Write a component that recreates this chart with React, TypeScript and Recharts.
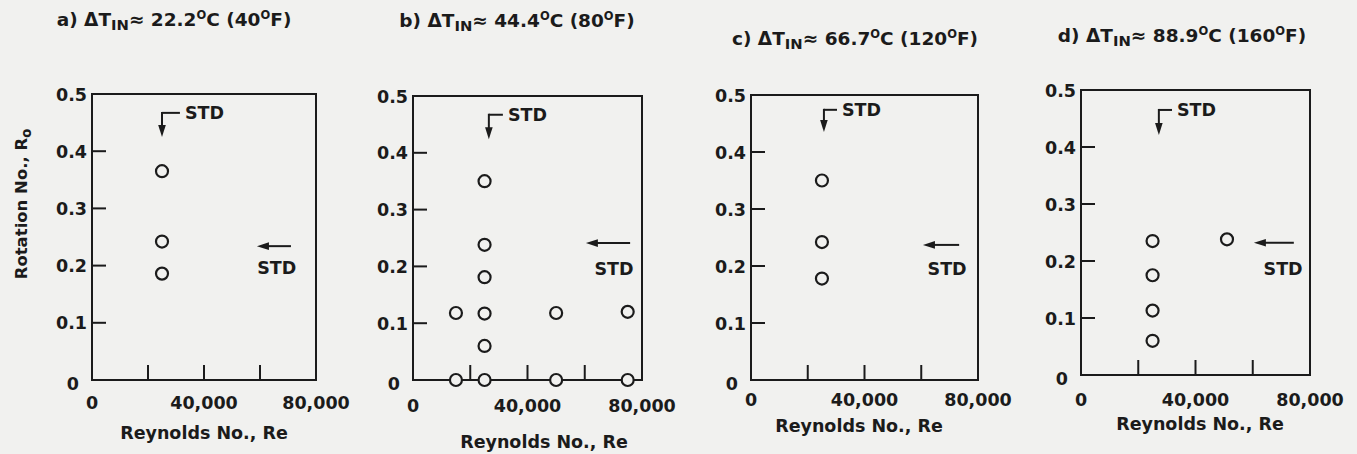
import React from "react";
import {
  ScatterChart,
  Scatter,
  XAxis,
  YAxis,
  ReferenceArea,
  ReferenceLine,
} from "recharts";

const INK = "#1b1b1b";
const BG = "#f1f1ef";
const FONT = "'DejaVu Sans', sans-serif";

// axes
const xTicks = [0, 20000, 40000, 60000, 80000];
const xTickLabels = ["0", "", "40,000", "", "80,000"];
const xTickMarks = [20000, 40000, 60000];
const yTicks = [0, 0.1, 0.2, 0.3, 0.4, 0.5];
const yTickLabels = ["0", "0.1", "0.2", "0.3", "0.4", "0.5"];
const yTickMarks = [0.1, 0.2, 0.3, 0.4];

// panel titles
const panelLetters = ["a)", "b)", "c)", "d)"];
const tempC = ["22.2", "44.4", "66.7", "88.9"];
const tempF = ["40", "80", "120", "160"];

// data points (Reynolds No., Rotation No.)
const aRe = [25000, 25000, 25000];
const aRo = [0.365, 0.242, 0.186];
const bRe = [15000, 15000, 25000, 25000, 25000, 25000, 25000, 25000, 50000, 50000, 75000, 75000];
const bRo = [0.118, 0, 0.35, 0.238, 0.181, 0.117, 0.06, 0, 0.118, 0, 0.12, 0];
const cRe = [25000, 25000, 25000];
const cRo = [0.35, 0.242, 0.178];
const dRe = [25000, 25000, 25000, 25000, 51000];
const dRo = [0.235, 0.175, 0.113, 0.06, 0.238];

// STD down arrow: [Re, Ro top, Ro tip, Re hook end]
const aStdDown = [25000, 0.467, 0.425, 31400];
const bStdDown = [26500, 0.467, 0.424, 31400];
const cStdDown = [25700, 0.474, 0.435, 30300];
const dStdDown = [27200, 0.465, 0.421, 31800];
// STD side arrow: [Re tail, Re tip, Ro]
const aStdSide = [70700, 58900, 0.234];
const bStdSide = [75500, 60400, 0.241];
const cStdSide = [73000, 60600, 0.237];
const dStdSide = [74000, 60400, 0.232];
// STD text under side arrow: [Re, Ro]
const aStdText = [66000, 0.196];
const bStdText = [70200, 0.197];
const cStdText = [69100, 0.196];
const dStdText = [70600, 0.186];

const panelRe = [aRe, bRe, cRe, dRe];
const panelRo = [aRo, bRo, cRo, dRo];
const stdDown = [aStdDown, bStdDown, cStdDown, dStdDown];
const stdSide = [aStdSide, bStdSide, cStdSide, dStdSide];
const stdText = [aStdText, bStdText, cStdText, dStdText];

// page layout of each panel (pixels)
const layouts = [
  { left: 92, right: 316, top: 94, bottom: 380, titleX: 174, titleY: 19.5, xTitleX: 204, xTitleY: 433, tickDy: 22.5 },
  { left: 413, right: 642, top: 96, bottom: 380, titleX: 517, titleY: 20.5, xTitleX: 544, xTitleY: 442, tickDy: 25.5 },
  { left: 751, right: 978, top: 95, bottom: 380, titleX: 855, titleY: 38.5, xTitleX: 859, xTitleY: 426, tickDy: 19.5 },
  { left: 1081, right: 1310, top: 90, bottom: 375, titleX: 1182, titleY: 36, xTitleX: 1200, xTitleY: 424, tickDy: 24.5 },
];

const textStyle = { fontFamily: FONT, fontSize: 17.5, fontWeight: 700, fill: INK };

const arrowShape = (p: any) => {
  const { x1, y1, x2, y2 } = p;
  const ang = Math.atan2(y2 - y1, x2 - x1);
  const len = 12;
  const half = 3.8;
  const bx = x2 - len * Math.cos(ang);
  const by = y2 - len * Math.sin(ang);
  const px = -Math.sin(ang) * half;
  const py = Math.cos(ang) * half;
  return (
    <g>
      <line x1={x1} y1={y1} x2={bx} y2={by} stroke={INK} strokeWidth={2} strokeLinecap="square" />
      <polygon
        points={`${x2},${y2} ${bx + px},${by + py} ${bx - px},${by - py}`}
        fill={INK}
      />
    </g>
  );
};

const ring = (p: any) => (
  <circle cx={p.cx} cy={p.cy} r={6} fill={BG} stroke={INK} strokeWidth={2.2} />
);

const stdStart = (p: any) => (
  <text x={p.cx + 5} y={p.cy + 6.5} textAnchor="start" style={textStyle}>
    STD
  </text>
);

const stdMiddle = (p: any) => (
  <text x={p.cx} y={p.cy + 6.5} textAnchor="middle" style={textStyle}>
    STD
  </text>
);

const sub = (t: string) => (
  <span style={{ fontSize: "0.8em", position: "relative", top: "0.3em" }}>{t}</span>
);
const sup = (t: string) => (
  <span style={{ fontSize: "0.62em", position: "relative", top: "-0.6em" }}>{t}</span>
);

const htmlText = {
  position: "absolute" as const,
  whiteSpace: "nowrap" as const,
  fontFamily: FONT,
  fontWeight: 700,
  lineHeight: "22px",
  color: INK,
};

function Panel({ i }: { i: number }) {
  const L = layouts[i];
  const padL = 70;
  const padR = 45;
  const axisH = 40;
  const w = L.right - L.left + padL + padR;
  const pts = panelRe[i].map((re, k) => ({ re, ro: panelRo[i][k] }));
  const down = stdDown[i];
  const side = stdSide[i];
  const topLabel = [{ re: down[3], ro: down[1] }];
  const sideLabel = [{ re: stdText[i][0], ro: stdText[i][1] }];

  const xTick = (p: any) => {
    const v = p.payload.value;
    const k = xTicks.indexOf(v);
    return (
      <g>
        {xTickMarks.includes(v) && (
          <line x1={p.x} y1={p.y} x2={p.x} y2={p.y - 15} stroke={INK} strokeWidth={2} />
        )}
        <text x={p.x} y={p.y + L.tickDy + 6.5} textAnchor="middle" style={textStyle}>
          {xTickLabels[k]}
        </text>
      </g>
    );
  };

  const yTick = (p: any) => {
    const v = p.payload.value;
    const k = yTicks.indexOf(v);
    return (
      <g>
        {yTickMarks.includes(v) && (
          <line x1={p.x} y1={p.y} x2={p.x + 14} y2={p.y} stroke={INK} strokeWidth={2} />
        )}
        <text
          x={p.x - (v === 0 ? 13 : 5)}
          y={p.y + 6.5 + (v === 0 ? 3 : 0)}
          textAnchor="end"
          style={textStyle}
        >
          {yTickLabels[k]}
        </text>
      </g>
    );
  };

  return (
    <>
      <div
        style={{
          ...htmlText,
          left: L.titleX,
          top: L.titleY - 11,
          transform: "translateX(-50%)",
          fontSize: 18.5,
        }}
      >
        {panelLetters[i]} ΔT{sub("IN")}≈ {tempC[i]}
        {sup("O")}C ({tempF[i]}
        {sup("O")}F)
      </div>
      <div
        style={{
          ...htmlText,
          left: L.xTitleX,
          top: L.xTitleY - 11,
          transform: "translateX(-50%)",
          fontSize: 17.5,
        }}
      >
        Reynolds No., Re
      </div>
      <div style={{ position: "absolute", left: L.left - padL, top: 0 }}>
        <ScatterChart
          width={w}
          height={454}
          margin={{ top: L.top, right: padR, bottom: 454 - L.bottom - axisH, left: 0 }}
        >
          <XAxis
            type="number"
            dataKey="re"
            domain={[0, 80000]}
            ticks={xTicks}
            interval={0}
            axisLine={false}
            tickLine={false}
            tickSize={0}
            tickMargin={0}
            height={axisH}
            tick={xTick}
          />
          <YAxis
            type="number"
            dataKey="ro"
            domain={[0, 0.5]}
            ticks={yTicks}
            interval={0}
            axisLine={false}
            tickLine={false}
            tickSize={0}
            tickMargin={0}
            width={padL}
            tick={yTick}
          />
          <ReferenceArea
            x1={0}
            x2={80000}
            y1={0}
            y2={0.5}
            fill="none"
            fillOpacity={0}
            stroke={INK}
            strokeWidth={2}
          />
          <ReferenceLine
            segment={[
              { x: down[0], y: down[1] },
              { x: down[0], y: down[2] },
            ]}
            shape={arrowShape}
          />
          <ReferenceLine
            segment={[
              { x: down[0], y: down[1] },
              { x: down[3], y: down[1] },
            ]}
            stroke={INK}
            strokeWidth={2}
            strokeOpacity={1}
          />
          <ReferenceLine
            segment={[
              { x: side[0], y: side[2] },
              { x: side[1], y: side[2] },
            ]}
            shape={arrowShape}
          />
          <Scatter data={topLabel} shape={stdStart} isAnimationActive={false} />
          <Scatter data={sideLabel} shape={stdMiddle} isAnimationActive={false} />
          <Scatter data={pts} shape={ring} isAnimationActive={false} />
        </ScatterChart>
      </div>
    </>
  );
}

export default function App() {
  return (
    <div
      style={{
        position: "absolute",
        left: 0,
        top: 0,
        width: 1357,
        height: 454,
        background: BG,
        overflow: "hidden",
      }}
    >
      <div
        style={{
          ...htmlText,
          left: 22,
          top: 204,
          transform: "translate(-50%, -50%) rotate(-90deg)",
          fontSize: 16.5,
        }}
      >
        Rotation No., R{sub("o")}
      </div>
      {[0, 1, 2, 3].map((i) => (
        <Panel key={i} i={i} />
      ))}
    </div>
  );
}
